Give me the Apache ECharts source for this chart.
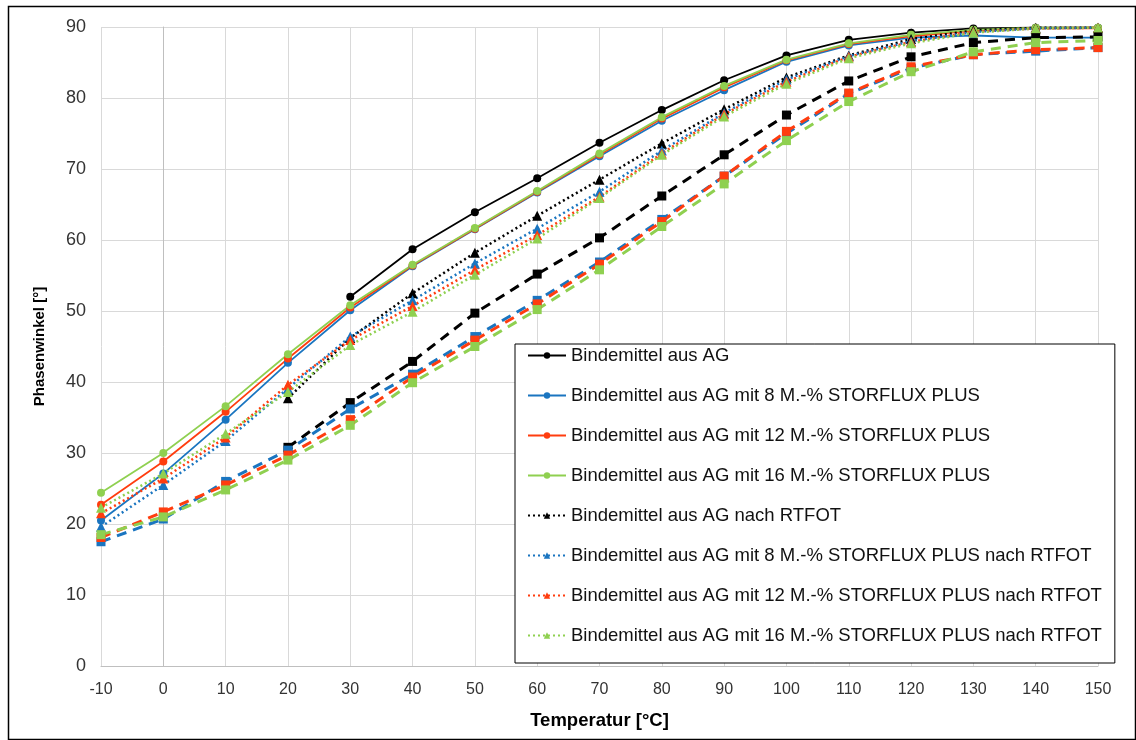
<!DOCTYPE html>
<html>
<head>
<meta charset="utf-8">
<script src="https://cdn.jsdelivr.net/npm/echarts@6/dist/echarts.min.js"></script>
<style>
  html, body { margin: 0; padding: 0; background: #fff; }
  #chart { width: 1136px; height: 740px; }
</style>
</head>
<body>
<div id="chart"></div>
<script>
// Temperatur [°C]
const temps = [-10, 0, 10, 20, 30, 40, 50, 60, 70, 80, 90, 100, 110, 120, 130, 140, 150];

// frisch
const ag = [null, null, null, null, 52.0, 58.7, 63.9, 68.7, 73.7, 78.3, 82.5, 86.0, 88.2, 89.2, 89.8, 89.9, 89.9];
const ag8 = [20.5, 27.1, 34.7, 42.7, 50.1, 56.3, 61.5, 66.7, 71.8, 76.8, 81.1, 85.1, 87.4, 88.5, 88.8, 88.5, 88.5];
const ag12 = [22.7, 28.8, 35.8, 43.3, 50.5, 56.4, 61.6, 66.8, 72.0, 77.1, 81.5, 85.3, 87.6, 88.7, 89.5, 89.8, 89.8];
const ag16 = [24.4, 30.0, 36.6, 43.9, 50.8, 56.5, 61.7, 66.9, 72.2, 77.3, 81.7, 85.4, 87.7, 88.9, 89.6, 89.9, 89.9];

// nach RTFOT
const agRt = [null, null, null, 37.7, 46.2, 52.5, 58.2, 63.4, 68.5, 73.6, 78.4, 82.9, 86.0, 88.3, 89.5, 89.9, 89.9];
const ag8Rt = [19.6, 25.5, 31.7, 39.1, 46.4, 51.5, 56.7, 61.6, 66.8, 72.6, 77.9, 82.6, 85.9, 88.0, 89.3, 89.8, 89.9];
const ag12Rt = [21.5, 26.4, 32.2, 39.6, 45.9, 50.7, 55.8, 60.7, 66.1, 72.2, 77.7, 82.3, 85.8, 87.9, 89.3, 89.8, 89.9];
const ag16Rt = [22.3, 27.1, 32.7, 38.6, 45.2, 49.9, 55.1, 60.2, 65.9, 72.0, 77.4, 82.0, 85.6, 87.7, 89.2, 89.8, 89.9];

// gestrichelte Kurven (nicht in der Legende)
const agD = [null, null, null, 30.8, 37.1, 42.9, 49.7, 55.2, 60.3, 66.2, 72.0, 77.6, 82.4, 85.8, 87.8, 88.5, 88.6];
const ag8D = [17.5, 20.7, 26.0, 30.4, 36.2, 41.1, 46.4, 51.5, 56.9, 62.9, 69.0, 75.0, 80.6, 84.2, 86.1, 86.6, 87.1];
const ag12D = [18.1, 21.7, 25.5, 29.7, 34.7, 40.7, 45.9, 51.0, 56.6, 62.6, 69.0, 75.3, 80.7, 84.4, 86.1, 86.8, 87.1];
const ag16D = [18.5, 21.0, 24.8, 29.0, 33.9, 39.9, 45.0, 50.2, 55.8, 61.9, 67.9, 74.0, 79.5, 83.7, 86.5, 87.8, 88.1];

const names = [
  'Bindemittel aus AG',
  'Bindemittel aus AG mit 8 M.-% STORFLUX PLUS',
  'Bindemittel aus AG mit 12 M.-% STORFLUX PLUS',
  'Bindemittel aus AG mit 16 M.-% STORFLUX PLUS',
  'Bindemittel aus AG nach RTFOT',
  'Bindemittel aus AG mit 8 M.-% STORFLUX PLUS nach RTFOT',
  'Bindemittel aus AG mit 12 M.-% STORFLUX PLUS nach RTFOT',
  'Bindemittel aus AG mit 16 M.-% STORFLUX PLUS nach RTFOT',
];

const colors = ['#000000', '#1a75c0', '#ff3d0f', '#8fd050'];

const pairs = (vals) => temps.map((t, i) => [t, vals[i]]);

const solid = (name, vals, color) => ({
  name,
  type: 'line',
  data: pairs(vals),
  symbol: 'circle',
  symbolSize: 8,
  lineStyle: { color, width: 1.8, type: 'solid' },
  itemStyle: { color },
});

const dotted = (name, vals, color) => ({
  name,
  type: 'line',
  data: pairs(vals),
  symbol: 'triangle',
  symbolSize: 10,
  lineStyle: { color, width: 2.5, type: [2, 3] },
  itemStyle: { color },
});

const dashed = (name, vals, color) => ({
  name,
  type: 'line',
  data: pairs(vals),
  symbol: 'rect',
  symbolSize: 9,
  lineStyle: { color, width: 3, type: [10, 7] },
  itemStyle: { color },
});

const series = [
  solid(names[0], ag, colors[0]),
  solid(names[1], ag8, colors[1]),
  solid(names[2], ag12, colors[2]),
  solid(names[3], ag16, colors[3]),
  dotted(names[4], agRt, colors[0]),
  dotted(names[5], ag8Rt, colors[1]),
  dotted(names[6], ag12Rt, colors[2]),
  dotted(names[7], ag16Rt, colors[3]),
  dashed('gestrichelt AG', agD, colors[0]),
  dashed('gestrichelt 8', ag8D, colors[1]),
  dashed('gestrichelt 12', ag12D, colors[2]),
  dashed('gestrichelt 16', ag16D, colors[3]),
];

const chart = echarts.init(document.getElementById('chart'));
const option = {
  animation: false,
  textStyle: { fontFamily: 'Liberation Sans, Arial, sans-serif' },
  graphic: [
    {
      type: 'rect',
      left: 6,
      top: 4,
      shape: { width: 1127, height: 733 },
      style: { fill: 'none', stroke: '#000', lineWidth: 1.5 },
      z: 100,
    },
  ],
  grid: {
    left: 101,
    right: 38,
    top: 27,
    bottom: 74,
  },
  legend: {
    data: names,
    orient: 'vertical',
    left: 515,
    top: 344,
    padding: [2, 13, 18, 12],
    itemGap: 21,
    itemWidth: 38,
    itemHeight: 8,
    backgroundColor: '#fff',
    borderColor: '#000',
    borderWidth: 1,
    borderRadius: 0,
    textStyle: { fontSize: 18.5, color: '#111', lineHeight: 19 },
    z: 10,
  },
  xAxis: {
    type: 'value',
    min: -10,
    max: 150,
    interval: 10,
    name: 'Temperatur [°C]',
    nameLocation: 'middle',
    nameGap: 45,
    nameTextStyle: { fontSize: 18.5, fontWeight: 'bold', color: '#000' },
    axisLine: { lineStyle: { color: '#bfbfbf' } },
    axisTick: { show: false },
    axisLabel: { fontSize: 16, color: '#333', margin: 16 },
    splitLine: { show: true, lineStyle: { color: '#d9d9d9' } },
  },
  yAxis: {
    type: 'value',
    min: 0,
    max: 90,
    interval: 10,
    name: 'Phasenwinkel [°]',
    nameLocation: 'middle',
    nameGap: 54,
    nameTextStyle: { fontSize: 15, fontWeight: 'bold', color: '#000' },
    axisLine: { show: true, lineStyle: { color: '#bfbfbf' } },
    axisTick: { show: false },
    axisLabel: { fontSize: 18, color: '#333', margin: 15 },
    splitLine: { show: true, lineStyle: { color: '#d9d9d9' } },
  },
  series,
};
chart.setOption(option);
</script>
</body>
</html>
